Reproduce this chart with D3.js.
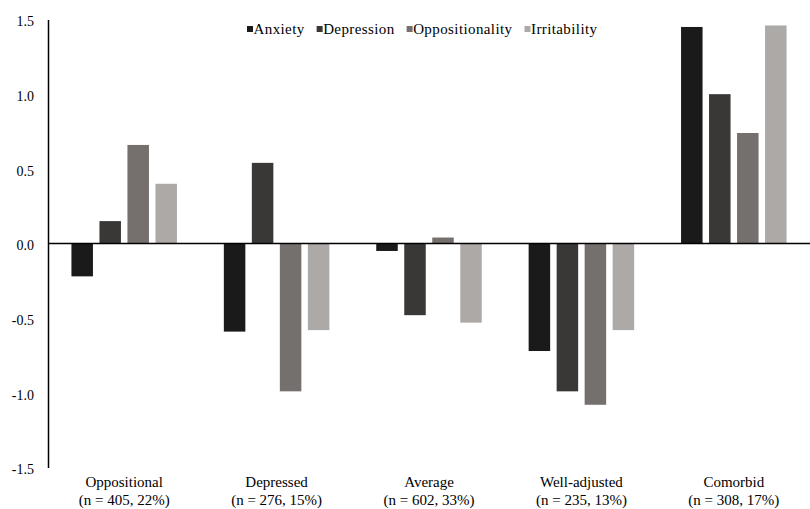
<!DOCTYPE html>
<html><head><meta charset="utf-8">
<script src="https://cdn.jsdelivr.net/npm/d3@7"></script>
<style>body{margin:0;background:#fff}svg{display:block}</style>
</head><body>
<svg id="c" width="810" height="509"></svg>
<script>
const categories = ["Oppositional","Depressed","Average","Well-adjusted","Comorbid"];
const categorySub = ["(n = 405, 22%)","(n = 276, 15%)","(n = 602, 33%)","(n = 235, 13%)","(n = 308, 17%)"];
const seriesNames = ["Anxiety","Depression","Oppositionality","Irritability"];
const anxiety = [-0.22, -0.59, -0.05, -0.72, 1.45];
const depression = [0.15, 0.54, -0.48, -0.99, 1.00];
const oppositionality = [0.66, -0.99, 0.04, -1.08, 0.74];
const irritability = [0.40, -0.58, -0.53, -0.58, 1.46];
const yTicks = [-1.5, -1.0, -0.5, 0.0, 0.5, 1.0, 1.5];
const colors = ["#1a1a1a","#3a3836","#75706e","#ada9a7"];

(function(){
const seriesValues = [anxiety, depression, oppositionality, irritability];
const svg = d3.select("#c");
const font = "'Liberation Serif','Times New Roman',serif";
const mLeft = 48, mRight = 810, mTop = 19.5, mBottom = 467.5;

const y = d3.scaleLinear().domain([-1.5, 1.5]).range([mBottom, mTop]);
const x0 = d3.scaleBand().domain(categories).range([mLeft, mRight]).paddingInner(0.265).paddingOuter(0.1325);
const x1 = d3.scaleBand().domain(seriesNames).range([0, x0.bandwidth()]).paddingInner(0.232).paddingOuter(0.116);

// bars
categories.forEach((c, ci) => {
  seriesNames.forEach((s, si) => {
    const v = seriesValues[si][ci];
    svg.append("rect")
      .attr("x", x0(c) + x1(s))
      .attr("y", y(Math.max(0, v)))
      .attr("width", x1.bandwidth())
      .attr("height", Math.abs(y(v) - y(0)))
      .attr("fill", colors[si]);
  });
});

// y axis
const yAxis = d3.axisLeft(y).tickValues(yTicks).tickFormat(d3.format(".1f")).tickSize(0).tickPadding(14);
const ga = svg.append("g").attr("transform", `translate(${mLeft},0)`).call(yAxis);
ga.select(".domain").attr("stroke", "#000").attr("stroke-width", 1.5);
ga.selectAll("text").attr("font-family", font).attr("font-size", 14).attr("fill", "#000").attr("dy", "0.45em")
  .text(d => d < 0 ? "-" + d3.format(".1f")(-d) : d3.format(".1f")(d));

// zero line
svg.append("line").attr("x1", mLeft).attr("x2", mRight).attr("y1", y(0)).attr("y2", y(0))
  .attr("stroke", "#000").attr("stroke-width", 1.5);

// category labels
const xAxis = d3.axisBottom(x0).tickSize(0).tickPadding(0);
const gx = svg.append("g").attr("transform", `translate(0,${mBottom})`).call(xAxis);
gx.select(".domain").remove();
gx.selectAll(".tick text").each(function(d, i) {
  const t = d3.select(this).text(null).attr("font-family", font).attr("font-size", 15).attr("fill", "#000").attr("y", 0).attr("dy", null);
  t.append("tspan").attr("x", 0).attr("y", 19.5).text(d);
  t.append("tspan").attr("x", 0).attr("y", 37.5).text(categorySub[i]);
});

// legend
const lg = svg.append("g").attr("font-family", font).attr("font-size", 15).attr("letter-spacing", 0.4);
let lx = 247;
const gapAfter = 12;
seriesNames.forEach((s, i) => {
  lg.append("rect").attr("x", lx).attr("y", 26).attr("width", 6).attr("height", 6).attr("fill", colors[i]);
  const t = lg.append("text").attr("x", lx + 6.5).attr("y", 34).attr("fill", "#000").text(s);
  lx += 6.5 + t.node().getComputedTextLength() + gapAfter;
});
})();
</script>
</body></html>
